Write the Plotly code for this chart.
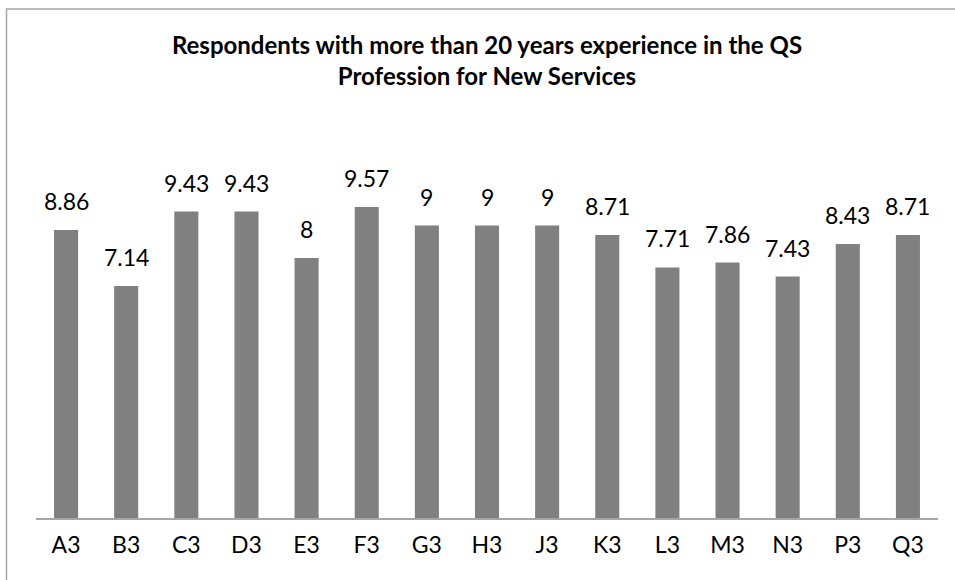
import plotly.graph_objects as go

categories = ["A3", "B3", "C3", "D3", "E3", "F3", "G3", "H3", "J3", "K3", "L3", "M3", "N3", "P3", "Q3"]
values = [8.86, 7.14, 9.43, 9.43, 8, 9.57, 9, 9, 9, 8.71, 7.71, 7.86, 7.43, 8.43, 8.71]
value_labels = ["8.86", "7.14", "9.43", "9.43", "8", "9.57", "9", "9", "9", "8.71", "7.71", "7.86", "7.43", "8.43", "8.71"]
title_text = "Respondents with more than 20 years experience in the QS<br>Profession for New Services"

FONT = "Lato, 'Open Sans', sans-serif"

fig = go.Figure()
fig.add_trace(go.Bar(
    x=categories, y=values,
    marker=dict(color="#808080", line=dict(width=0)),
    hoverinfo="skip",
))

for c, v, t in zip(categories, values, value_labels):
    fig.add_annotation(x=c, y=v, text=t, showarrow=False, yanchor="bottom",
                       yshift=13, font=dict(family=FONT, size=23, color="#000000"))

W, H = 955, 580
L, R, T, B = 36, 17, 128, 62
pw, ph = W - L - R, H - T - B

def px_x(p):
    return (p - L) / pw

def px_y(p):
    return (H - B - p) / ph

fig.add_shape(type="rect", xref="paper", yref="paper",
              x0=px_x(6.5), x1=px_x(970), y0=px_y(9), y1=px_y(600),
              line=dict(color="#a6a6a6", width=1.5), fillcolor="rgba(0,0,0,0)", layer="below")

fig.update_layout(
    width=W, height=H,
    margin=dict(l=L, r=R, t=T, b=B),
    paper_bgcolor="white", plot_bgcolor="white",
    bargap=0.6,
    showlegend=False,
    title=dict(text=title_text, x=0.5, xref="paper", xanchor="center",
               y=1 - 54 / H, yanchor="middle",
               font=dict(family=FONT, size=24, color="#000000", weight="bold")),
    xaxis=dict(showline=True, linecolor="#a6a6a6", linewidth=1.5, ticks="",
               ticklabelstandoff=6,
               tickfont=dict(family=FONT, size=23, color="#000000"),
               showgrid=False, zeroline=False, fixedrange=True),
    yaxis=dict(range=[0, 12], visible=False, showgrid=False, zeroline=False, fixedrange=True),
)

fig.write_html("out.html", config={"displayModeBar": False},
               post_script="document.body.style.margin='0';document.body.style.overflow='hidden';")
